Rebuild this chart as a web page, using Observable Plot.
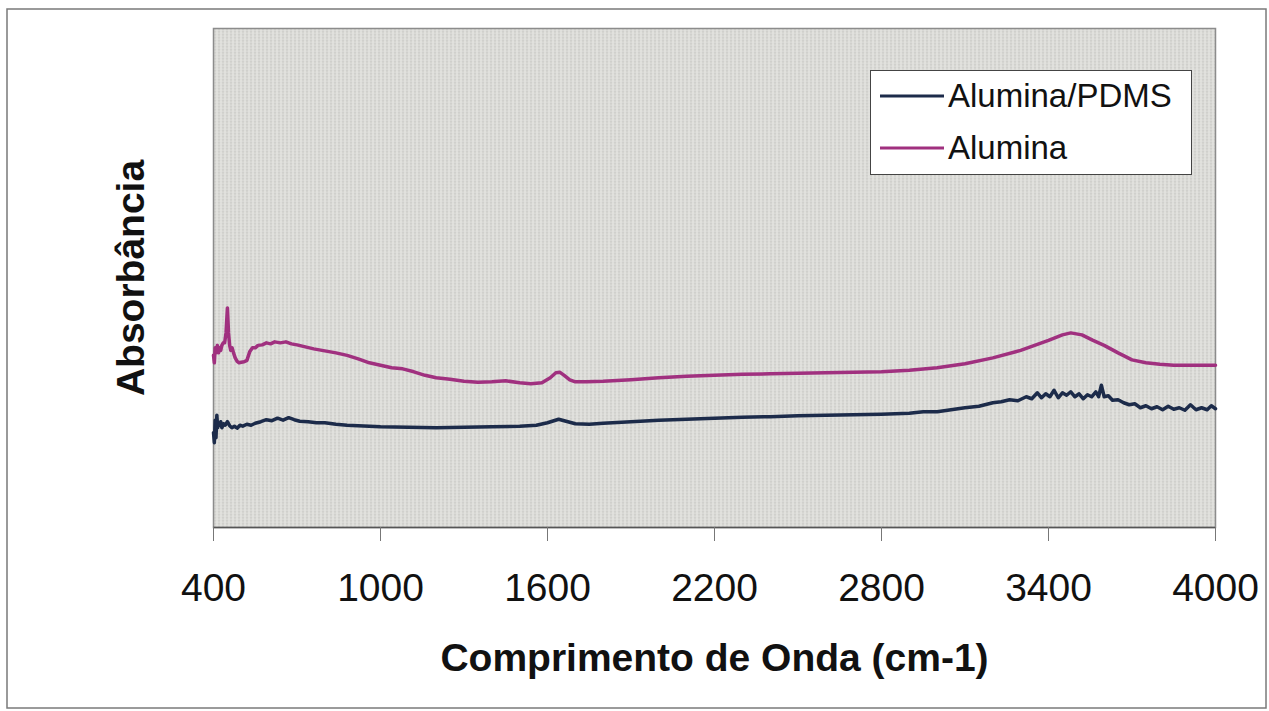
<!DOCTYPE html>
<html>
<head>
<meta charset="utf-8">
<script src="https://cdn.jsdelivr.net/npm/d3@7"></script>
<script src="https://cdn.jsdelivr.net/npm/@observablehq/plot@0.6"></script>
<style>
  html, body { margin: 0; padding: 0; background: #fff; }
  #wrap { position: relative; width: 1269px; height: 711px; overflow: hidden; }
  #legend {
    position: absolute; left: 870px; top: 70px; width: 322px; height: 105px;
    background: #fff; border: 1.5px solid #444; box-sizing: border-box;
    font-family: "Liberation Sans", Arial, sans-serif; font-size: 33px; color: #111;
  }
  #legend .row { position: absolute; left: 9px; display: flex; align-items: center; height: 38px; }
  #legend svg { margin-right: 4px; }
</style>
</head>
<body>
<div id="wrap">
  <div id="chart"></div>
  <div id="legend"></div>
</div>
<script>
// FTIR spectra: wavenumber (cm-1) and absorbance (arbitrary units)
const aluminaPdms = [
  [400,0.19],[403,0.17],[406,0.215],[409,0.18],[412,0.225],[415,0.2],[418,0.21],[422,0.205],
  [426,0.212],[430,0.2],[436,0.208],[442,0.205],[450,0.212],[458,0.204],[466,0.2],[475,0.203],
  [485,0.199],[495,0.205],[505,0.203],[520,0.207],[535,0.205],[550,0.209],[570,0.212],[590,0.216],
  [610,0.214],[630,0.219],[650,0.215],[670,0.22],[690,0.216],[710,0.213],[740,0.212],[770,0.21],
  [800,0.21],[840,0.207],[880,0.205],[920,0.204],[960,0.203],[1000,0.202],[1100,0.201],[1200,0.2],
  [1300,0.201],[1400,0.202],[1500,0.203],[1560,0.205],[1600,0.21],[1640,0.217],[1660,0.214],
  [1700,0.208],[1750,0.207],[1800,0.209],[1900,0.212],[2000,0.215],[2100,0.217],[2200,0.219],
  [2300,0.221],[2400,0.222],[2500,0.224],[2600,0.225],[2700,0.226],[2800,0.227],[2900,0.229],
  [2950,0.232],[3000,0.232],[3050,0.236],[3100,0.24],[3150,0.243],[3200,0.25],[3230,0.252],
  [3260,0.256],[3290,0.254],[3320,0.262],[3340,0.258],[3360,0.27],[3375,0.26],[3390,0.268],
  [3405,0.262],[3420,0.275],[3435,0.26],[3450,0.27],[3465,0.265],[3480,0.272],[3495,0.262],
  [3510,0.268],[3525,0.258],[3540,0.266],[3555,0.262],[3570,0.272],[3580,0.262],[3590,0.285],
  [3600,0.262],[3615,0.264],[3630,0.255],[3650,0.256],[3670,0.25],[3690,0.246],[3710,0.248],
  [3730,0.24],[3750,0.244],[3770,0.238],[3790,0.242],[3810,0.236],[3830,0.243],[3850,0.237],
  [3870,0.24],[3890,0.235],[3910,0.246],[3930,0.236],[3950,0.24],[3970,0.236],[3985,0.244],[4000,0.238]
];

const alumina = [
  [400,0.345],[403,0.33],[406,0.36],[410,0.35],[414,0.365],[418,0.35],[422,0.36],[426,0.355],
  [430,0.365],[435,0.37],[440,0.37],[445,0.39],[450,0.44],[454,0.39],[458,0.365],[462,0.355],
  [467,0.36],[472,0.35],[478,0.34],[485,0.333],[492,0.33],[500,0.331],[510,0.332],[520,0.335],
  [530,0.352],[540,0.36],[550,0.36],[560,0.365],[575,0.366],[590,0.37],[605,0.368],[620,0.372],
  [640,0.37],[660,0.372],[680,0.368],[700,0.366],[730,0.362],[760,0.358],[800,0.354],[840,0.35],
  [880,0.345],[920,0.338],[960,0.33],[1000,0.325],[1040,0.32],[1080,0.318],[1120,0.312],
  [1160,0.305],[1200,0.3],[1250,0.297],[1300,0.293],[1350,0.291],[1400,0.292],[1450,0.294],
  [1500,0.29],[1540,0.288],[1580,0.29],[1610,0.3],[1630,0.31],[1645,0.311],[1660,0.305],
  [1680,0.296],[1700,0.292],[1740,0.292],[1800,0.293],[1900,0.296],[2000,0.3],[2100,0.303],
  [2200,0.305],[2300,0.307],[2400,0.308],[2500,0.309],[2600,0.31],[2700,0.311],[2800,0.312],
  [2900,0.315],[3000,0.32],[3100,0.328],[3200,0.34],[3300,0.355],[3400,0.375],[3450,0.386],
  [3480,0.39],[3520,0.386],[3560,0.375],[3600,0.365],[3650,0.35],[3700,0.336],[3750,0.33],
  [3800,0.327],[3850,0.325],[3900,0.325],[4000,0.325]
];

const seriesNames = ["Alumina/PDMS", "Alumina"];
const seriesColors = ["#1c2b4a", "#a0307f"];
const xTicks = [400, 1000, 1600, 2200, 2800, 3400, 4000];
const xTitle = "Comprimento de Onda (cm-1)";
const yTitle = "Absorbância";

const toRows = (pairs, name) => pairs.map(([wn, abs]) => ({wn, abs, name}));
const rows = [
  ...toRows(aluminaPdms, seriesNames[0]),
  ...toRows(alumina, seriesNames[1])
];

const font = "'Liberation Sans', Arial, sans-serif";

const chart = Plot.plot({
  width: 1269,
  height: 711,
  marginLeft: 213,
  marginRight: 54,
  marginTop: 28,
  marginBottom: 184,
  style: {fontFamily: font, background: "transparent", color: "#111"},
  x: {domain: [400, 4000]},
  y: {domain: [0, 1], axis: null},
  color: {domain: seriesNames, range: seriesColors},
  marks: [
    Plot.frame({fill: "url(#plotTexture)", stroke: "#8c8c8c", strokeWidth: 1.5}),
    Plot.ruleY([0], {stroke: "#555", strokeWidth: 1.5}),
    Plot.line(rows, {x: "wn", y: "abs", z: "name", stroke: "name", strokeWidth: 3.5, strokeLinejoin: "round"}),
    Plot.axisX({
      ticks: xTicks, tickFormat: d => String(d), tickSize: 14, tickPadding: 32,
      fontSize: 39, label: null, stroke: "#777", fill: "#111"
    }),
    Plot.text([xTitle], {frameAnchor: "bottom", dy: 143, fontSize: 39, fontWeight: "bold", fill: "#111"}),
    Plot.text([yTitle], {frameAnchor: "left", textAnchor: "middle", dx: -82, rotate: -90, fontSize: 39, fontWeight: "bold", fill: "#111"})
  ]
});

// Fine paper-like texture for the plotting area
const svg = d3.select(chart);
const defs = svg.insert("defs", ":first-child");
const pat = defs.append("pattern")
  .attr("id", "plotTexture").attr("patternUnits", "userSpaceOnUse")
  .attr("width", 4).attr("height", 3);
pat.append("rect").attr("width", 4).attr("height", 3).attr("fill", "#d4d4d1");
pat.append("rect").attr("x", 0).attr("width", 1).attr("height", 3).attr("fill", "#e8e8e5");
pat.append("rect").attr("x", 2).attr("y", 1).attr("width", 1).attr("height", 1).attr("fill", "#c2c2be");
pat.append("rect").attr("x", 1).attr("y", 2).attr("width", 3).attr("height", 1).attr("fill", "#dededa");

// Outer chart border
svg.append("rect")
  .attr("x", 7).attr("y", 9).attr("width", 1259).attr("height", 699)
  .attr("fill", "none").attr("stroke", "#7a7a7a").attr("stroke-width", 1.5);

document.getElementById("chart").appendChild(chart);

// Legend
const legend = d3.select("#legend");
seriesNames.forEach((name, i) => {
  const row = legend.append("div").attr("class", "row").style("top", (6 + i * 52) + "px");
  const sw = row.append("svg").attr("width", 64).attr("height", 8);
  sw.append("line").attr("x1", 0).attr("x2", 64).attr("y1", 4).attr("y2", 4)
    .attr("stroke", seriesColors[i]).attr("stroke-width", 3);
  row.append("span").text(name);
});
</script>
</body>
</html>
